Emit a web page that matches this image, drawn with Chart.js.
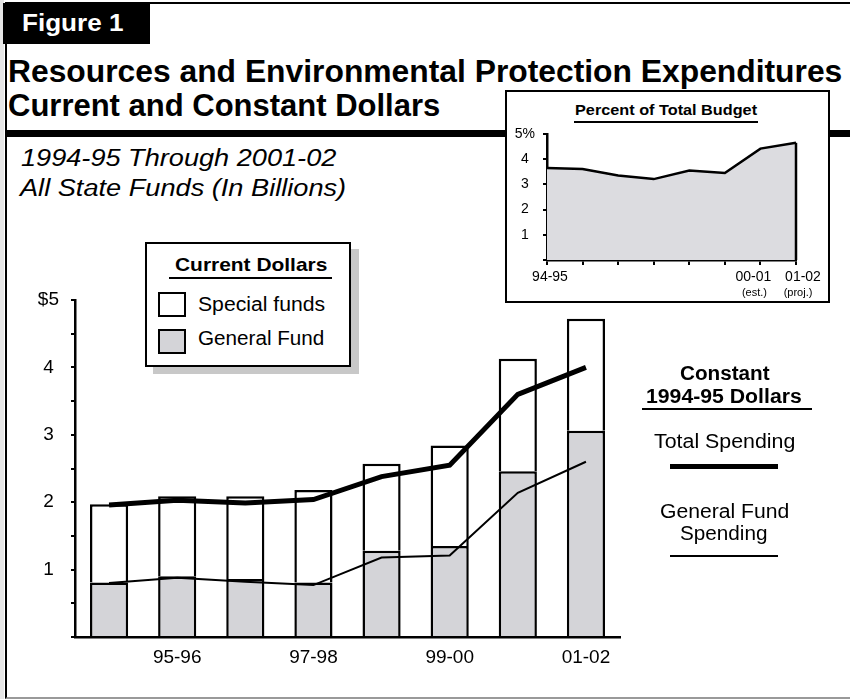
<!DOCTYPE html>
<html>
<head>
<meta charset="utf-8">
<script src="https://cdn.jsdelivr.net/npm/chart.js@4.4.1/dist/chart.umd.min.js"></script>
<style>
  html, body { margin: 0; padding: 0; background: #fff; }
  body { width: 850px; height: 699px; position: relative; overflow: hidden;
         font-family: "Liberation Sans", Arial, sans-serif; color: #000; }
  .t { position: absolute; white-space: nowrap; line-height: 1; transform-origin: 0 0; }
  #edge { position: absolute; left: 0; top: 0; width: 4px; height: 699px; background: #e6e6e6; }
  #frame { position: absolute; left: 5px; top: 2px; width: 860px; height: 693px;
           border-left: 2px solid #000; border-top: 2px solid #000; border-bottom: 2px solid #999; }
  #tab { position: absolute; left: 3px; top: 3px; width: 147px; height: 41px; background: #000; }
  #rule { position: absolute; left: 7px; top: 130px; width: 843px; height: 7px; background: #000; }
  #mainChart { position: absolute; left: 0; top: 0; }
  #legendShadow { position: absolute; left: 153px; top: 249px; width: 206px; height: 125px; background: #c8c8c8; }
  #legendBox { position: absolute; left: 145px; top: 242px; width: 202px; height: 121px;
               background: #fff; border: 2px solid #000; }
  .sw { position: absolute; width: 24px; height: 21px; border: 2px solid #000; }
  #insetBox { position: absolute; left: 505px; top: 90px; width: 321px; height: 209px;
              background: #fff; border: 2px solid #000; }
  #insetChart { position: absolute; left: 505px; top: 90px; }
  .uline { position: absolute; background: #000; }
  .b { font-weight: bold; }
</style>
</head>
<body>
<div id="edge"></div>
<div id="frame"></div>
<div id="tab"></div>
<div class="t b" data-w="101" style="left:22px;top:11px;font-size:24px;color:#fff;">Figure 1</div>
<div class="t b" data-w="834" style="left:8px;top:55px;font-size:32px;">Resources and Environmental Protection Expenditures</div>
<div class="t b" data-w="432" style="left:8px;top:89px;font-size:32px;">Current and Constant Dollars</div>
<div id="rule"></div>
<div class="t" data-w="315" style="left:21px;top:147px;font-size:23px;font-style:italic;">1994-95 Through 2001-02</div>
<div class="t" data-w="326" style="left:20px;top:177px;font-size:23px;font-style:italic;">All State Funds (In Billions)</div>

<canvas id="mainChart" width="850" height="699"></canvas>

<div id="legendShadow"></div>
<div id="legendBox"></div>
<div class="t b" data-w="152" style="left:175px;top:255px;font-size:19px;">Current Dollars</div>
<div class="uline" style="left:169px;top:277px;width:163px;height:2px;"></div>
<div class="sw" style="left:158px;top:292px;background:#fff;"></div>
<div class="t" data-w="127" style="left:198px;top:294px;font-size:20px;">Special funds</div>
<div class="sw" style="left:158px;top:329px;background:#d4d4d8;"></div>
<div class="t" data-w="126" style="left:198px;top:328px;font-size:20px;">General Fund</div>

<div class="t b" data-w="90" style="left:680px;top:363px;font-size:20px;">Constant</div>
<div class="t b" data-w="156" style="left:646px;top:386px;font-size:20px;">1994-95 Dollars</div>
<div class="uline" style="left:642px;top:408px;width:170px;height:2px;"></div>
<div class="t" data-w="141" style="left:654px;top:431px;font-size:20px;">Total Spending</div>
<div class="uline" style="left:670px;top:464px;width:108px;height:5px;"></div>
<div class="t" data-w="129" style="left:660px;top:501px;font-size:20px;">General Fund</div>
<div class="t" data-w="88" style="left:680px;top:523px;font-size:20px;">Spending</div>
<div class="uline" style="left:670px;top:555px;width:108px;height:2px;"></div>

<div id="insetBox"></div>
<div class="t b" data-w="182" style="left:575px;top:102px;font-size:15px;">Percent of Total Budget</div>
<div class="uline" style="left:574px;top:121px;width:184px;height:2px;"></div>
<canvas id="insetChart" width="325" height="213"></canvas>

<script>
// 資源・環境保護支出(名目・実質)と予算比率の挿入図。
var YEARS = ["94-95", "95-96", "96-97", "97-98", "98-99", "99-00", "00-01", "01-02"];
var GENERAL_FUND = [0.81, 0.90, 0.86, 0.81, 1.28, 1.35, 2.46, 3.06];    // 名目・一般会計
var SPECIAL_FUNDS = [1.16, 1.19, 1.23, 1.37, 1.29, 1.49, 1.67, 1.66];   // 名目・特別会計
var CONST_TOTAL = [1.96, 2.03, 1.99, 2.04, 2.38, 2.55, 3.60, 4.00];     // 1994-95年ドル・総額
var CONST_GF = [0.80, 0.88, 0.82, 0.77, 1.18, 1.21, 2.14, 2.60];        // 1994-95年ドル・一般会計
var MAIN_Y_TICKS = ["", "1", "2", "3", "4", "$5"];

var PCT_BUDGET = [3.65, 3.61, 3.35, 3.21, 3.55, 3.45, 4.42, 4.65];
var INSET_X_LABELS = ["94-95", "", "", "", "", "", "00-01", "01-02"];
var INSET_X_NOTES = ["", "", "", "", "", "", "(est.)", "(proj.)"];
var INSET_Y_TICKS = ["", "1", "2", "3", "4", "5%"];

var FONT = "'Liberation Sans', Arial, sans-serif";
var GRAY = "#d4d4d8";

// 元の図の文字幅に合わせて横方向に伸縮。
document.querySelectorAll(".t[data-w]").forEach(function (el) {
    el.style.transform = "scaleX(" + (+el.dataset.w / el.scrollWidth) + ")";
});

new Chart(document.getElementById("mainChart"), {
    type: "bar",
    data: {
        labels: YEARS,
        datasets: [
            { type: "line", data: CONST_TOTAL, borderColor: "#000", borderWidth: 5, pointRadius: 0,
              tension: 0, fill: false, stack: "ct", order: 1 },
            { type: "line", data: CONST_GF, borderColor: "#000", borderWidth: 2, pointRadius: 0,
              tension: 0, fill: false, stack: "cg", order: 1 },
            { data: GENERAL_FUND, backgroundColor: GRAY, borderColor: "#000", borderWidth: 2.5,
              stack: "cur", order: 2 },
            { data: SPECIAL_FUNDS, backgroundColor: "#fff", borderColor: "#000", borderWidth: 2.5,
              stack: "cur", order: 2 },
        ],
    },
    options: {
        responsive: false, animation: false,
        layout: { padding: { top: 300, right: 230, left: 0, bottom: 0 } },
        datasets: { bar: { categoryPercentage: 1, barPercentage: 0.56 } },
        plugins: { legend: { display: false }, tooltip: { enabled: false } },
        scales: {
            x: {
                stacked: true, offset: true, z: 1,
                grid: { display: false },
                border: { display: true, color: "#000", width: 2.5 },
                ticks: { autoSkip: false, maxRotation: 0, color: "#000", padding: 1,
                         font: { size: 19, family: FONT },
                         callback: function (v, i) { return i % 2 ? YEARS[i] : ""; } },
                afterFit: function (s) { s.height = 62; },
            },
            y: {
                stacked: true, min: 0, max: 5,
                grid: { drawOnChartArea: false, color: "#000", tickColor: "#000", tickLength: 4, lineWidth: 2 },
                border: { display: true, color: "#000", width: 2.5 },
                ticks: { stepSize: 0.5, color: "#000", crossAlign: "center", padding: 12,
                         font: { size: 19, family: FONT },
                         callback: function (v) { return Number.isInteger(v) ? MAIN_Y_TICKS[v] : ""; } },
                afterFit: function (s) { s.width = 75; },
            },
        },
    },
});

// 塗り面の右端の縦線と、x軸ラベル(est./proj. の注記つき)。
var LABEL_DX = [3, 0, 0, 0, 0, 0, -7, 7];
var NOTE_DX = [0, 0, 0, 0, 0, 0, -6, 2];
var insetExtras = {
    id: "insetExtras",
    afterDatasetsDraw: function (c) {
        var pts = c.getDatasetMeta(0).data, last = pts[pts.length - 1], ctx = c.ctx;
        ctx.save();
        ctx.strokeStyle = "#000";
        ctx.lineWidth = 2.5;
        ctx.beginPath();
        ctx.moveTo(last.x, last.y);
        ctx.lineTo(last.x, c.scales.y.getPixelForValue(0));
        ctx.stroke();
        ctx.restore();
    },
    afterDraw: function (c) {
        var xs = c.scales.x, ctx = c.ctx;
        ctx.save();
        ctx.fillStyle = "#000";
        ctx.textAlign = "center";
        ctx.textBaseline = "middle";
        YEARS.forEach(function (y, i) {
            var x = xs.getPixelForTick(i);
            if (INSET_X_LABELS[i]) {
                ctx.font = "14px " + FONT;
                ctx.fillText(INSET_X_LABELS[i], x + LABEL_DX[i], xs.top + 17);
            }
            if (INSET_X_NOTES[i]) {
                ctx.font = "11px " + FONT;
                ctx.fillText(INSET_X_NOTES[i], x + NOTE_DX[i], xs.top + 33);
            }
        });
        ctx.restore();
    },
};

new Chart(document.getElementById("insetChart"), {
    type: "line",
    data: {
        labels: YEARS,
        datasets: [{ data: PCT_BUDGET, borderColor: "#000", borderWidth: 2.5, pointRadius: 0,
                     tension: 0, fill: "origin", backgroundColor: "#dcdce0" }],
    },
    plugins: [insetExtras],
    options: {
        responsive: false, animation: false,
        layout: { padding: { top: 44, right: 34, left: 0, bottom: 0 } },
        plugins: { legend: { display: false }, tooltip: { enabled: false } },
        scales: {
            x: {
                offset: false, z: 1,
                grid: { drawOnChartArea: false, color: "#000", tickColor: "#000", tickLength: 5, lineWidth: 2 },
                border: { display: true, color: "#000", width: 2.5 },
                ticks: { autoSkip: false, maxRotation: 0, padding: 1,
                         font: { size: 14, family: FONT },
                         callback: function () { return ""; } },
                afterFit: function (s) { s.height = 43; },
            },
            y: {
                min: 0, max: 5,
                grid: { drawOnChartArea: false, color: "#000", tickColor: "#000", tickLength: 4, lineWidth: 2 },
                border: { display: true, color: "#000", width: 2.5 },
                ticks: { stepSize: 1, color: "#000", crossAlign: "center", padding: 8,
                         font: { size: 14, family: FONT },
                         callback: function (v) { return INSET_Y_TICKS[v]; } },
                afterFit: function (s) { s.width = 42; },
            },
        },
    },
});
</script>
</body>
</html>
